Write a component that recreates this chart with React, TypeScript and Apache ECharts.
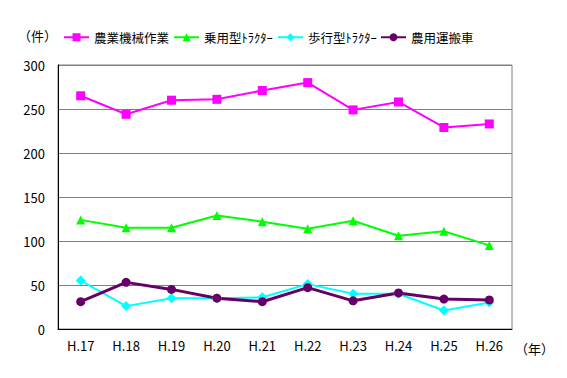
import React, { useEffect, useRef } from "react";
import * as echarts from "echarts";

const categories = ["H.17", "H.18", "H.19", "H.20", "H.21", "H.22", "H.23", "H.24", "H.25", "H.26"];
const seriesNames = ["農業機械作業", "乗用型ﾄﾗｸﾀｰ", "歩行型ﾄﾗｸﾀｰ", "農用運搬車"];
const farmWork = [265, 244, 260, 261, 271, 280, 249, 258, 229, 233];
const ridingTractor = [124, 115, 115, 129, 122, 114, 123, 106, 111, 95];
const walkingTractor = [55, 26, 35, 35, 36, 51, 40, 40, 21, 30];
const transportVehicle = [31, 53, 45, 35, 31, 47, 32, 41, 34, 33];
const yTicks = [0, 50, 100, 150, 200, 250, 300];

const FONT = "'Noto Sans CJK JP', sans-serif";
const legendLefts = [63, 173, 277, 380];

export default function App() {
  const ref = useRef<HTMLDivElement>(null);
  useEffect(() => {
    if (!ref.current) return;
    const chart = echarts.init(ref.current, undefined, { renderer: "svg" });
    const mk = (name: string, data: number[], color: string, symbol: string, size: number, width: number) => ({
      name,
      type: "line",
      data,
      symbol,
      symbolSize: size,
      itemStyle: { color },
      lineStyle: { color, width },
      emphasis: { disabled: true },
    });
    chart.setOption({
      animation: false,
      backgroundColor: "#ffffff",
      textStyle: { fontFamily: FONT },
      grid: {
        left: 58,
        right: 55,
        top: 65,
        bottom: 49,
        show: true,
        borderColor: "#808080",
        borderWidth: 1,
      },
      legend: seriesNames.map((n, i) => ({
        left: legendLefts[i],
        top: 31,
        padding: 0,
        itemWidth: 25,
        itemHeight: 10,
        textStyle: { fontSize: 12.5, color: "#000", fontFamily: FONT },
        data: [n],
      })),
      graphic: [
        { type: "text", left: 18, top: 29, style: { text: "（件）", fontSize: 13, fill: "#000", fontFamily: FONT } },
        { type: "text", left: 515, top: 342, style: { text: "（年）", fontSize: 13, fill: "#000", fontFamily: FONT } },
      ],
      xAxis: {
        type: "category",
        data: categories,
        boundaryGap: true,
        axisLine: { lineStyle: { color: "#000", width: 1 } },
        axisTick: { inside: true, length: 5, lineStyle: { color: "#000" } },
        axisLabel: { fontSize: 13, color: "#000", margin: 10, fontFamily: FONT },
        splitLine: { show: false },
      },
      yAxis: {
        type: "value",
        min: yTicks[0],
        max: yTicks[yTicks.length - 1],
        interval: 50,
        axisLine: { show: true, lineStyle: { color: "#000", width: 1 } },
        axisTick: { show: false },
        axisLabel: { fontSize: 13, color: "#000", margin: 13, fontFamily: FONT },
        splitLine: { lineStyle: { color: "#808080", width: 1 } },
      },
      series: [
        mk(seriesNames[0], farmWork, "#FF00FF", "rect", 9, 2),
        mk(seriesNames[1], ridingTractor, "#00FF00", "triangle", 9, 2),
        mk(seriesNames[2], walkingTractor, "#00FFFF", "diamond", 10, 2),
        mk(seriesNames[3], transportVehicle, "#660066", "circle", 9, 3),
      ],
    });
    return () => chart.dispose();
  }, []);
  return <div ref={ref} style={{ width: 567, height: 378, position: "absolute", left: 0, top: 0 }} />;
}
